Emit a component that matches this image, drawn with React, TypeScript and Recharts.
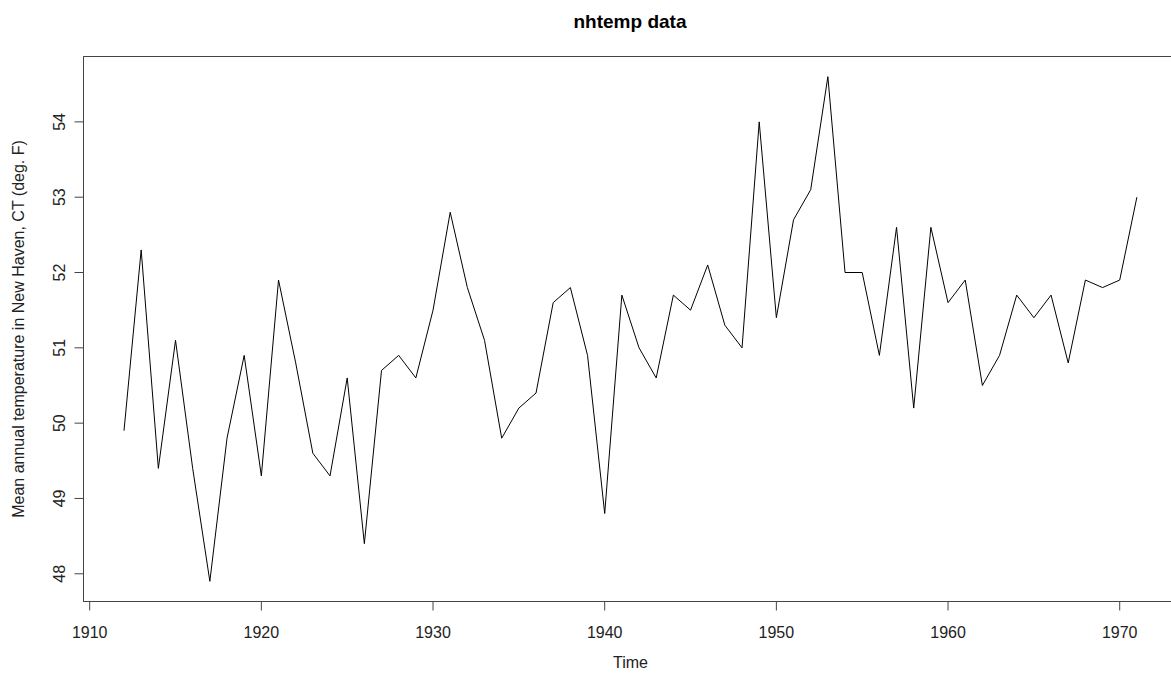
import { LineChart, Line, XAxis, YAxis, Label, ReferenceArea } from "recharts";

// nhtemp: mean annual temperature in New Haven, CT (deg. F)
const years = [
  1912, 1913, 1914, 1915, 1916, 1917, 1918, 1919, 1920, 1921,
  1922, 1923, 1924, 1925, 1926, 1927, 1928, 1929, 1930, 1931,
  1932, 1933, 1934, 1935, 1936, 1937, 1938, 1939, 1940, 1941,
  1942, 1943, 1944, 1945, 1946, 1947, 1948, 1949, 1950, 1951,
  1952, 1953, 1954, 1955, 1956, 1957, 1958, 1959, 1960, 1961,
  1962, 1963, 1964, 1965, 1966, 1967, 1968, 1969, 1970, 1971,
];
const temps = [
  49.9, 52.3, 49.4, 51.1, 49.4, 47.9, 49.8, 50.9, 49.3, 51.9,
  50.8, 49.6, 49.3, 50.6, 48.4, 50.7, 50.9, 50.6, 51.5, 52.8,
  51.8, 51.1, 49.8, 50.2, 50.4, 51.6, 51.8, 50.9, 48.8, 51.7,
  51.0, 50.6, 51.7, 51.5, 52.1, 51.3, 51.0, 54.0, 51.4, 52.7,
  53.1, 54.6, 52.0, 52.0, 50.9, 52.6, 50.2, 52.6, 51.6, 51.9,
  50.5, 50.9, 51.7, 51.4, 51.7, 50.8, 51.9, 51.8, 51.9, 53.0,
];
const xTicks = [1910, 1920, 1930, 1940, 1950, 1960, 1970];
const yTicks = [48, 49, 50, 51, 52, 53, 54];

const data = years.map((year, i) => ({ year, temp: temps[i] }));

const FONT = "'Liberation Sans', Arial, sans-serif";
const TEXT = "#222";
const AXIS = "#444";

// R style 4% axis extension
const xDomain = [1909.64, 1973.36];
const yDomain = [47.632, 54.868];

const XTick = (props: any) => {
  const { x, y, payload } = props;
  return (
    <text x={x} y={y + 20} textAnchor="middle" dominantBaseline="central" fontSize={16} fill={TEXT} fontFamily={FONT}>
      {payload.value}
    </text>
  );
};

const YTick = (props: any) => {
  const { x, y, payload } = props;
  const cx = x - 13;
  return (
    <text x={cx} y={y} textAnchor="middle" dominantBaseline="central" fontSize={16} fill={TEXT} fontFamily={FONT} transform={`rotate(-90 ${cx} ${y})`}>
      {payload.value}
    </text>
  );
};

export default function App() {
  return (
    <div style={{ position: "absolute", left: 0, top: 0, width: 1171, height: 677, overflow: "hidden", background: "#fff" }}>
      <LineChart width={1200} height={677} data={data} margin={{ top: 56.5, right: 22.6, bottom: 0, left: 0 }}>
        <text x={630} y={21} textAnchor="middle" dominantBaseline="central" fontSize={19} fontWeight="bold" fill="#000" fontFamily={FONT}>
          nhtemp data
        </text>
        <XAxis
          dataKey="year"
          type="number"
          domain={xDomain}
          ticks={xTicks}
          allowDataOverflow
          height={75.5}
          stroke={AXIS}
          tickSize={9}
          tickLine={{ stroke: AXIS }}
          tick={<XTick />}
        >
          <Label value="Time" position="insideBottom" offset={9} fontSize={16} fill={TEXT} fontFamily={FONT} />
        </XAxis>
        <YAxis
          type="number"
          domain={yDomain}
          ticks={yTicks}
          allowDataOverflow
          width={83.5}
          stroke={AXIS}
          tickSize={9}
          tickLine={{ stroke: AXIS }}
          tick={<YTick />}
        >
          <Label
            value="Mean annual temperature in New Haven, CT (deg. F)"
            angle={-90}
            position="insideLeft"
            offset={18}
            style={{ textAnchor: "middle" }}
            fontSize={16}
            fill={TEXT}
            fontFamily={FONT}
          />
        </YAxis>
        <ReferenceArea
          x1={xDomain[0]}
          x2={xDomain[1]}
          y1={yDomain[0]}
          y2={yDomain[1]}
          fill="none"
          fillOpacity={0}
          stroke={AXIS}
          strokeWidth={1}
          ifOverflow="visible"
        />
        <Line
          type="linear"
          dataKey="temp"
          stroke="#000"
          strokeWidth={1}
          dot={false}
          isAnimationActive={false}
        />
      </LineChart>
    </div>
  );
}
